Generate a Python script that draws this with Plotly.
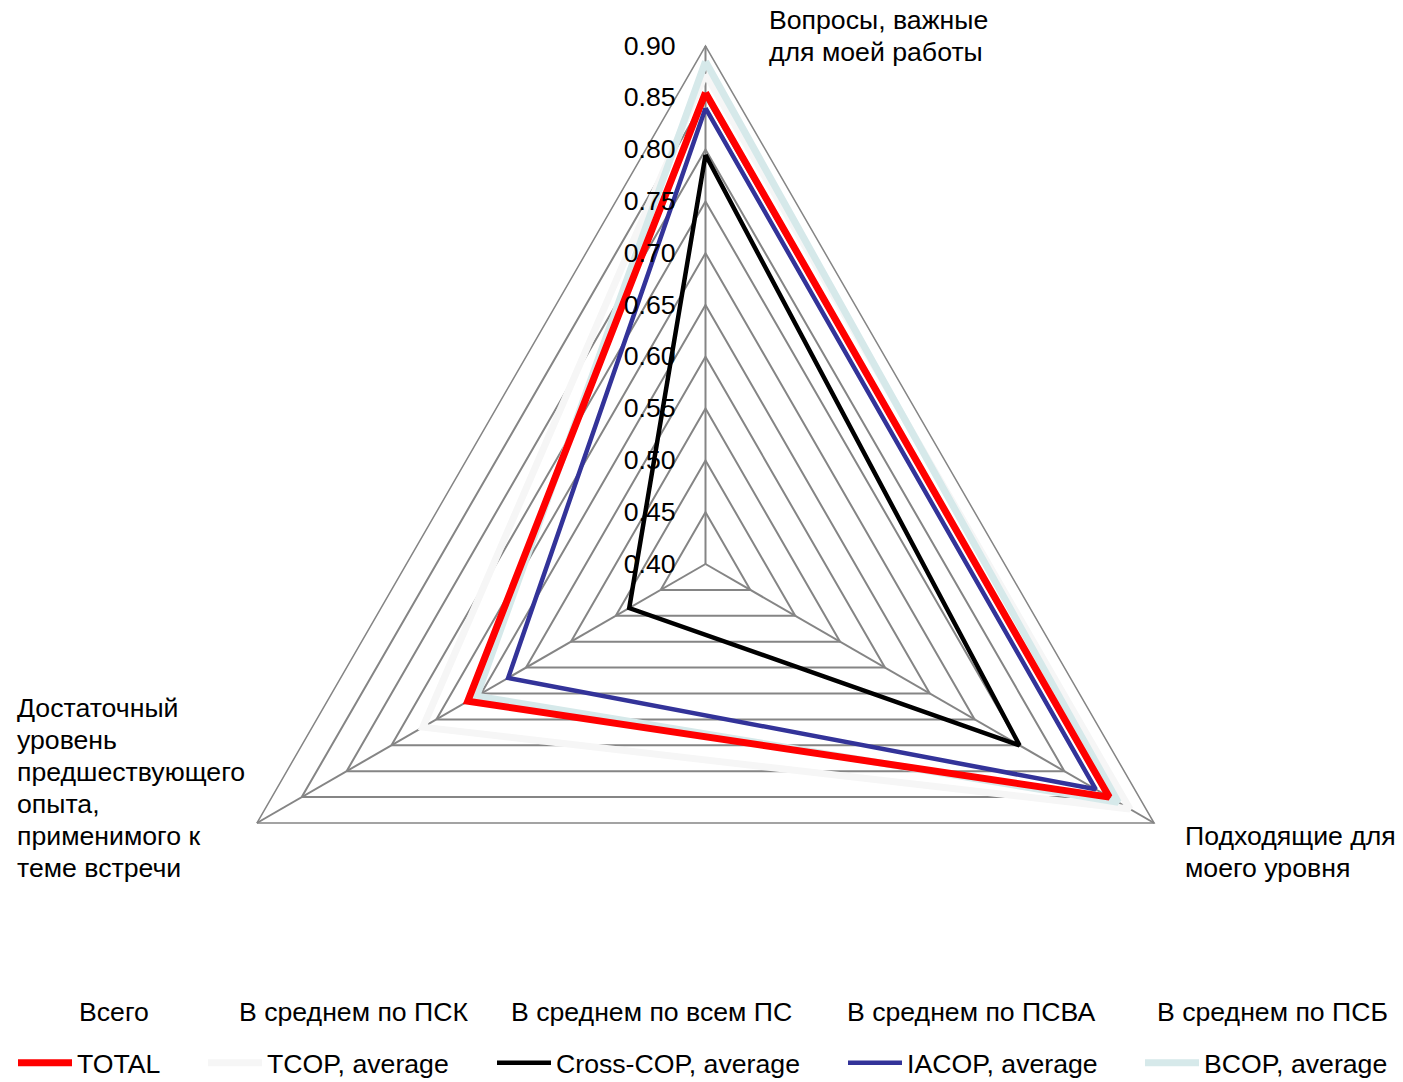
import plotly.graph_objects as go

# Axis categories (clockwise from the top) and their display lines
categories = [
    "Вопросы, важные для моей работы",
    "Подходящие для моего уровня",
    "Достаточный уровень предшествующего опыта, применимого к теме встречи",
]
category_lines = [
    ["Вопросы, важные", "для моей работы"],
    ["Подходящие для", "моего уровня"],
    ["Достаточный", "уровень", "предшествующего", "опыта,", "применимого к", "теме встречи"],
]

# Series values, in the same category order
total = [0.855, 0.850, 0.665]
tcop = [0.873, 0.873, 0.715]
cross_cop = [0.795, 0.750, 0.485]
iacop = [0.840, 0.835, 0.620]
bcop = [0.885, 0.860, 0.655]

series_names = ["TOTAL", "TCOP, average", "Cross-COP, average", "IACOP, average", "BCOP, average"]
group_titles = ["Всего", "В среднем по ПСК", "В среднем по всем ПС", "В среднем по ПСВА", "В среднем по ПСБ"]

radial_ticks = [0.40, 0.45, 0.50, 0.55, 0.60, 0.65, 0.70, 0.75, 0.80, 0.85, 0.90]

W, H = 1403, 1082
FONT = "Liberation Sans, Arial, sans-serif"
FS = 26.67
GRID = "#858585"

styles = {
    "TOTAL": dict(color="#FF0000", width=7),
    "TCOP, average": dict(color="#F6F6F6", width=7),
    "Cross-COP, average": dict(color="#000000", width=4.5),
    "IACOP, average": dict(color="#333399", width=4.5),
    "BCOP, average": dict(color="#D6E9EA", width=7),
}
values = {
    "TOTAL": total,
    "TCOP, average": tcop,
    "Cross-COP, average": cross_cop,
    "IACOP, average": iacop,
    "BCOP, average": bcop,
}
legend_ids = ["legend", "legend2", "legend3", "legend4", "legend5"]

fig = go.Figure()

# back-to-front drawing order
draw_order = ["TCOP, average", "BCOP, average", "TOTAL", "IACOP, average", "Cross-COP, average"]
for name in draw_order:
    idx = series_names.index(name)
    r = values[name]
    fig.add_trace(go.Scatterpolar(
        r=r + [r[0]],
        theta=categories + [categories[0]],
        mode="lines",
        name=name,
        line=dict(color=styles[name]["color"], width=styles[name]["width"]),
        legend=legend_ids[idx],
        showlegend=True,
        hoverinfo="skip",
        subplot="polar",
    ))

# empty trace so the overlay subplot (tick labels drawn above the series) is created
fig.add_trace(go.Scatterpolar(
    r=[None], theta=[categories[0]], mode="lines", showlegend=False,
    hoverinfo="skip", subplot="polar2",
))

# polar placement
cx, cy, R = 705.5, 564.0, 518.0
domain = dict(x=[(cx - R) / W, (cx + R) / W], y=[1 - (cy + R) / H, 1 - (cy - R) / H])

radial_common = dict(
    range=[radial_ticks[0], radial_ticks[-1]],
    tickvals=radial_ticks,
    ticktext=[f"{v:.2f}" for v in radial_ticks],
    angle=90,
    side="counterclockwise",
    tickangle=90,
    showline=False,
    ticks="outside",
    ticklen=20,
    tickcolor="rgba(0,0,0,0)",
    tickfont=dict(family=FONT, size=FS, color="black"),
)

fig.update_layout(
    width=W, height=H,
    showlegend=True,
    margin=dict(l=0, r=0, t=0, b=0, autoexpand=False),
    paper_bgcolor="white",
    plot_bgcolor="white",
    font=dict(family=FONT, size=FS, color="black"),
    polar=dict(
        domain=domain,
        gridshape="linear",
        bgcolor="white",
        radialaxis=dict(
            **radial_common,
            showticklabels=False,
            gridcolor=GRID,
            gridwidth=1.5,
            layer="below traces",
        ),
        angularaxis=dict(
            direction="clockwise",
            rotation=90,
            showticklabels=False,
            ticks="",
            showline=True,
            linecolor=GRID,
            linewidth=1.5,
            gridcolor=GRID,
            gridwidth=1.5,
            layer="below traces",
        ),
    ),
    polar2=dict(
        domain=domain,
        gridshape="linear",
        bgcolor="rgba(0,0,0,0)",
        radialaxis=dict(
            **radial_common,
            showgrid=False,
            layer="above traces",
        ),
        angularaxis=dict(
            direction="clockwise",
            rotation=90,
            categoryarray=categories,
            type="category",
            showticklabels=False,
            ticks="",
            showline=False,
            showgrid=False,
        ),
    ),
)

# one single-item legend per series, each under its own group heading
line_starts = [18, 208, 497, 848, 1145]
title_centers = [114, 353, 651, 971, 1272]
for i, lid in enumerate(legend_ids):
    fig.update_layout({lid: dict(
        x=(line_starts[i] - 5) / W, xanchor="left",
        y=19 / H, yanchor="middle",
        orientation="h",
        bgcolor="rgba(0,0,0,0)",
        borderwidth=0,
        itemwidth=54,
        font=dict(family=FONT, size=FS, color="black"),
    )})
    fig.add_annotation(
        x=title_centers[i] / W, y=1 - 1012 / H, xref="paper", yref="paper",
        text=group_titles[i], showarrow=False, xanchor="center", yanchor="middle",
        font=dict(family=FONT, size=FS, color="black"),
    )

# category labels beside the triangle vertices (left x, first line centre y)
label_pos = [(767, 20), (1183, 836), (15, 708)]
line_step = 32
for (lx, ly), lines in zip(label_pos, category_lines):
    for k, txt in enumerate(lines):
        fig.add_annotation(
            x=lx / W, y=1 - (ly + k * line_step) / H, xref="paper", yref="paper",
            text=txt, showarrow=False, xanchor="left", yanchor="middle", align="left",
            font=dict(family=FONT, size=FS, color="black"),
        )

fig.write_html("out.html")
